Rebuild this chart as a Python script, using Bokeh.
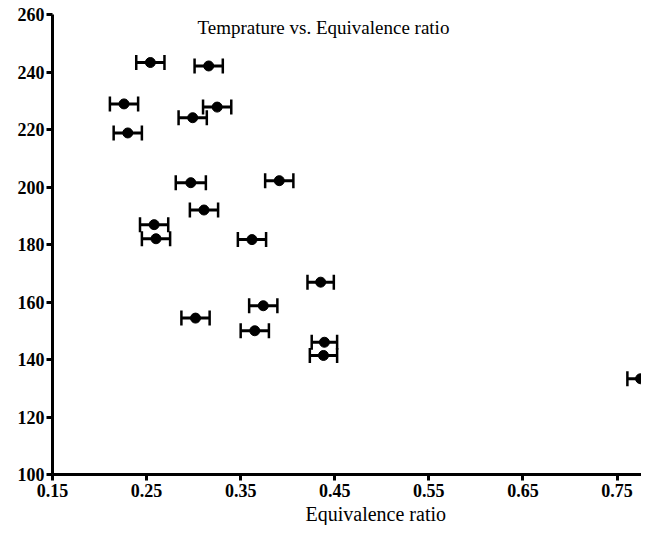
from bokeh.plotting import figure
from bokeh.models import ColumnDataSource, Whisker, Range1d, FixedTicker, Label, Title
from bokeh.embed import file_html
from bokeh.resources import INLINE

# Data
phi = [0.254, 0.316, 0.226, 0.325, 0.299, 0.230, 0.297, 0.391, 0.311, 0.258, 0.260,
       0.362, 0.435, 0.374, 0.302, 0.365, 0.439, 0.438, 0.775]
temp = [243.3, 242.1, 228.9, 227.8, 224.1, 218.8, 201.5, 202.2, 192.0, 186.9, 182.0,
        181.7, 166.9, 158.7, 154.4, 150.0, 146.0, 141.4, 133.3]
phi_err = [0.015, 0.015, 0.015, 0.015, 0.015, 0.015, 0.016, 0.015, 0.015, 0.015, 0.015,
           0.015, 0.014, 0.015, 0.015, 0.015, 0.0135, 0.0145, 0.014]

x_ticks = [0.15, 0.25, 0.35, 0.45, 0.55, 0.65, 0.75]
y_ticks = [100, 120, 140, 160, 180, 200, 220, 240, 260]

title_text = "Temprature vs. Equivalence ratio"
x_label_text = "Equivalence ratio"

lower = [p - e for p, e in zip(phi, phi_err)]
upper = [p + e for p, e in zip(phi, phi_err)]
src = ColumnDataSource(dict(x=phi, y=temp, lo=lower, hi=upper))

p = figure(width=641, height=525, output_backend="svg", toolbar_location=None,
           x_range=Range1d(0.15, 0.776), y_range=Range1d(100, 260),
           min_border_left=52, min_border_right=0, min_border_top=14, min_border_bottom=0)

p.xgrid.visible = False
p.ygrid.visible = False
p.outline_line_color = None
p.background_fill_color = "white"
p.border_fill_color = "white"

serif = "Liberation Serif"
for ax in (p.xaxis[0], p.yaxis[0]):
    ax.axis_line_width = 3
    ax.axis_line_color = "black"
    ax.major_tick_line_width = 3
    ax.major_tick_line_color = "black"
    ax.major_tick_out = 6
    ax.major_tick_in = 0
    ax.minor_tick_line_color = None
    ax.major_label_text_font = serif
    ax.major_label_text_font_style = "bold"
    ax.major_label_text_font_size = "18px"
    ax.major_label_text_color = "black"

p.xaxis.ticker = FixedTicker(ticks=x_ticks)
p.yaxis.ticker = FixedTicker(ticks=y_ticks)
p.xaxis.major_label_standoff = 3
p.yaxis.major_label_standoff = 2

err = Whisker(source=src, base="y", lower="lo", upper="hi", dimension="width",
              line_color="black", line_width=3)
for head in (err.upper_head, err.lower_head):
    head.size = 15
    head.line_width = 2.5
    head.line_color = "black"
p.add_layout(err)

p.scatter("x", "y", source=src, marker="circle", size=10, fill_color="black", line_color="black")

title = Label(x=145, y=447, x_units="screen", y_units="screen", text=title_text,
              text_font=serif, text_font_size="19px", text_color="black", text_baseline="alphabetic")
p.add_layout(title)

xlabel = Title(text=x_label_text, align="left", offset=253, text_font=serif,
               text_font_size="20px", text_font_style="normal", text_color="black",
               standoff=2)
p.add_layout(xlabel, "below")

open("out.html", "w").write(file_html(p, INLINE))
